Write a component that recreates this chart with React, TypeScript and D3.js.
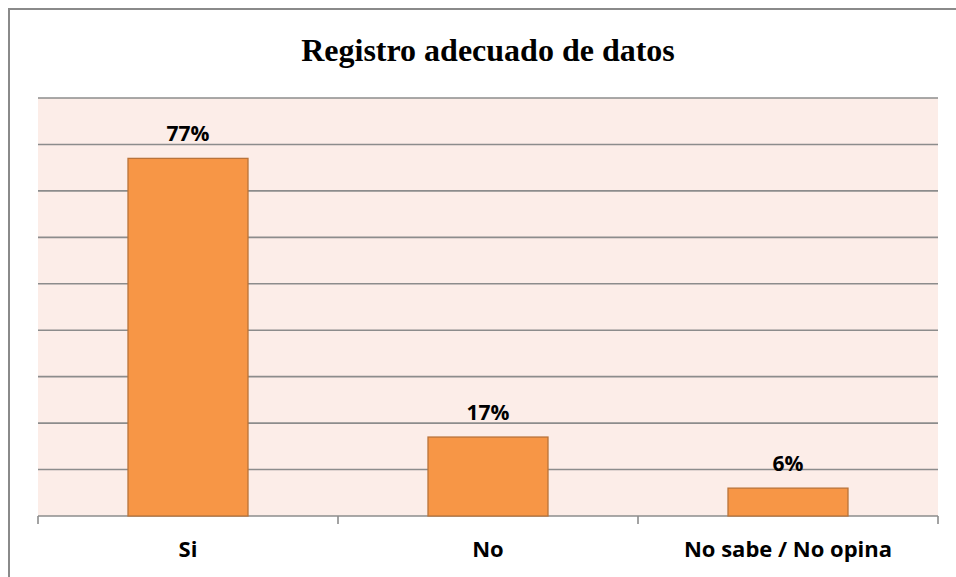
import { useEffect, useRef } from 'react';
import * as d3 from 'd3';

const categories = ['Si', 'No', 'No sabe / No opina'];
const percents = [77, 17, 6];
const gridValues = [0, 10, 20, 30, 40, 50, 60, 70, 80, 90];

const [width, height] = [956, 577];
const plot = { left: 38, right: 938, top: 98, bottom: 516 };

function App() {
    const node = useRef<SVGSVGElement>(null);
    useEffect(() => {
        if (!node.current) return;
        const svg = d3.select(node.current);
        svg.selectAll('*').remove();

        // outer chart frame (only top and left visible)
        svg.append('path')
            .attr('d', `M9,${height} L9,9 L${width},9`)
            .attr('fill', 'none').attr('stroke', '#8a8a8a').attr('stroke-width', 2);

        svg.append('text')
            .attr('x', 488).attr('y', 61)
            .attr('text-anchor', 'middle')
            .attr('font-family', '"Liberation Serif", "Times New Roman", serif')
            .attr('font-weight', 'bold').attr('font-size', 32)
            .text('Registro adecuado de datos');

        const x = d3.scaleBand().domain(categories).range([plot.left, plot.right]).paddingInner(0).paddingOuter(0);
        const y = d3.scaleLinear().domain([0, 90]).range([plot.bottom, plot.top]);

        svg.append('rect')
            .attr('x', plot.left).attr('y', plot.top)
            .attr('width', plot.right - plot.left).attr('height', plot.bottom - plot.top)
            .attr('fill', '#fcede8');

        svg.append('g').selectAll('line').data(gridValues).enter().append('line')
            .attr('x1', plot.left).attr('x2', plot.right)
            .attr('y1', d => y(d)).attr('y2', d => y(d))
            .attr('stroke', '#8c8c8c').attr('stroke-width', 1.6);

        // x-axis ticks at category boundaries
        const bounds = categories.map(c => x(c)!).concat([plot.right]);
        svg.append('g').selectAll('line').data(bounds).enter().append('line')
            .attr('x1', d => d).attr('x2', d => d)
            .attr('y1', plot.bottom).attr('y2', plot.bottom + 8)
            .attr('stroke', '#8c8c8c').attr('stroke-width', 1.6);

        const barW = x.bandwidth() * 0.4;
        const bars = svg.append('g');
        bars.selectAll('rect').data(percents).enter().append('rect')
            .attr('x', (d, i) => x(categories[i])! + (x.bandwidth() - barW) / 2)
            .attr('y', d => y(d))
            .attr('width', barW)
            .attr('height', d => y(0) - y(d))
            .attr('fill', '#f79646').attr('stroke', '#b9733a').attr('stroke-width', 1.3);

        const font = '"Open Sans", "Noto Sans", sans-serif';
        bars.selectAll('text.val').data(percents).enter().append('text')
            .attr('class', 'val')
            .attr('x', (d, i) => x(categories[i])! + x.bandwidth() / 2)
            .attr('y', d => y(d) - 17)
            .attr('text-anchor', 'middle')
            .attr('font-family', font).attr('font-weight', 'bold').attr('font-size', 21)
            .text(d => `${d}%`);

        svg.append('g').selectAll('text').data(categories).enter().append('text')
            .attr('x', d => x(d)! + x.bandwidth() / 2)
            .attr('y', 557)
            .attr('text-anchor', 'middle')
            .attr('font-family', font).attr('font-weight', 'bold').attr('font-size', 22)
            .text(d => d);
    }, []);
    return (
        <svg ref={node} width={width} height={height}
            style={{ position: 'absolute', left: 0, top: 0, background: '#fff' }}></svg>
    );
}

export default App;
